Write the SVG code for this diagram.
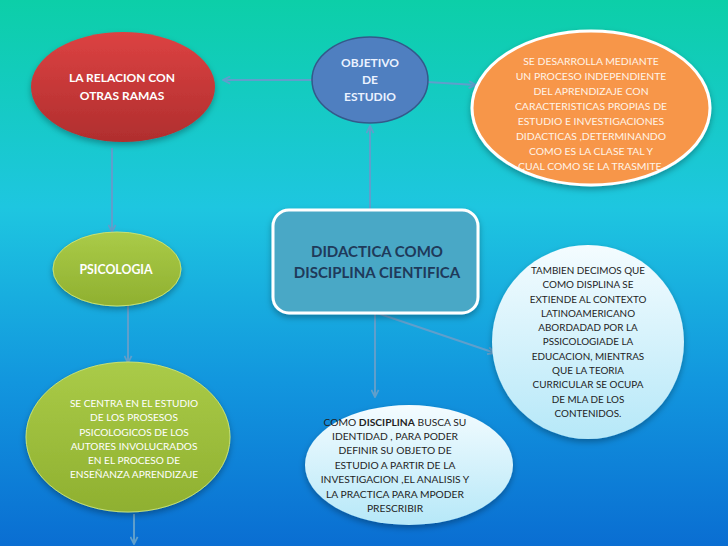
<svg xmlns="http://www.w3.org/2000/svg" width="728" height="546" viewBox="0 0 728 546">
<defs>
<linearGradient id="bg" x1="0" y1="0" x2="0" y2="1">
<stop offset="0" stop-color="#0ccfa8"/>
<stop offset="0.38" stop-color="#1ec6e0"/>
<stop offset="0.7" stop-color="#1296de"/>
<stop offset="1" stop-color="#0a6ed2"/>
</linearGradient>
<linearGradient id="gRed" x1="0" y1="0" x2="0" y2="1">
<stop offset="0" stop-color="#dc4242"/>
<stop offset="1" stop-color="#b02e2e"/>
</linearGradient>
<linearGradient id="gGreen" x1="0" y1="0" x2="0" y2="1">
<stop offset="0" stop-color="#aacb48"/>
<stop offset="1" stop-color="#8fb030"/>
</linearGradient>
<linearGradient id="gLight" x1="0" y1="0" x2="0" y2="1">
<stop offset="0" stop-color="#f4fcff"/>
<stop offset="1" stop-color="#b6e8f8"/>
</linearGradient>
<filter id="sh" x="-20%" y="-20%" width="140%" height="150%">
<feDropShadow dx="0" dy="3" stdDeviation="3" flood-color="#000" flood-opacity="0.3"/>
</filter>
<marker id="ah" viewBox="0 0 10 10" refX="9" refY="5" markerWidth="9" markerHeight="9" orient="auto" markerUnits="userSpaceOnUse">
<path d="M1,1 L9,5 L1,9" fill="none" stroke="#5f9fcc" stroke-width="2"/>
</marker>
<style>
.t{font-family:"Lato","Liberation Sans",sans-serif;text-anchor:middle}
.b{font-weight:bold}
.w{fill:#ffffff}
.c{stroke:#5f9fcc;stroke-width:2;fill:none;marker-end:url(#ah)}
</style>
</defs>
<rect width="728" height="546" fill="url(#bg)"/>
<g id="connectors">
<line class="c" x1="312" y1="80" x2="223" y2="80"/>
<line class="c" x1="427" y1="82" x2="476" y2="85"/>
<line class="c" x1="370" y1="209" x2="370" y2="126"/>
<line class="c" x1="112" y1="148" x2="112" y2="232"/>
<line class="c" x1="128" y1="306" x2="128" y2="363"/>
<line class="c" x1="134" y1="514" x2="134" y2="544"/>
<line class="c" x1="375" y1="313" x2="375" y2="397"/>
<line class="c" x1="377" y1="313" x2="495" y2="353"/>
</g>
<g id="relacion">
<ellipse cx="123" cy="87" rx="92" ry="55" fill="url(#gRed)" filter="url(#sh)"/>
<text class="t b w" font-size="12" x="122" y="82">LA RELACION CON</text>
<text class="t b w" font-size="12" x="122" y="100">OTRAS RAMAS</text>
</g>
<g id="objetivo">
<ellipse cx="370" cy="80" rx="58" ry="43" fill="#4f7fc0" stroke="#34598a" stroke-width="1.5"/>
<text class="t b" fill="#eaf2ff" font-size="12" x="370" y="67">OBJETIVO</text>
<text class="t b" fill="#eaf2ff" font-size="12" x="370" y="84">DE</text>
<text class="t b" fill="#eaf2ff" font-size="12" x="370" y="101">ESTUDIO</text>
</g>
<g id="desarrolla">
<ellipse cx="591" cy="108" rx="119" ry="77" fill="#f7964a" stroke="#ffffff" stroke-width="3" filter="url(#sh)"/>
<g class="t" font-size="10.4" fill="#fff4e8">
<text x="591" y="65">SE DESARROLLA MEDIANTE</text>
<text x="591" y="80">UN PROCESO INDEPENDIENTE</text>
<text x="591" y="95">DEL APRENDIZAJE CON</text>
<text x="591" y="110">CARACTERISTICAS PROPIAS DE</text>
<text x="591" y="125">ESTUDIO E INVESTIGACIONES</text>
<text x="591" y="140">DIDACTICAS ,DETERMINANDO</text>
<text x="591" y="155">COMO ES LA CLASE TAL Y</text>
<text x="591" y="170">CUAL COMO SE LA TRASMITE.</text>
</g>
</g>
<g id="psicologia">
<ellipse cx="117" cy="269" rx="64" ry="37" fill="url(#gGreen)" stroke="#c8e070" stroke-width="1" filter="url(#sh)"/>
<text class="t b w" font-size="12.3" x="116" y="274">PSICOLOGIA</text>
</g>
<g id="centra">
<ellipse cx="128" cy="437" rx="102" ry="75" fill="url(#gGreen)" stroke="#c8e070" stroke-width="1" filter="url(#sh)"/>
<g class="t w" font-size="10.1">
<text x="134" y="407">SE CENTRA EN EL ESTUDIO</text>
<text x="134" y="421">DE LOS PROSESOS</text>
<text x="134" y="436">PSICOLOGICOS DE LOS</text>
<text x="134" y="450">AUTORES INVOLUCRADOS</text>
<text x="134" y="464">EN EL PROCESO DE</text>
<text x="134" y="478">ENSEÑANZA APRENDIZAJE</text>
</g>
</g>
<g id="didactica">
<rect x="273" y="210" width="205" height="103" rx="16" fill="#4aa8c6" stroke="#ffffff" stroke-width="3" filter="url(#sh)"/>
<text class="t b" fill="#1f3a5a" font-size="15" x="377" y="257">DIDACTICA COMO</text>
<text class="t b" fill="#1f3a5a" font-size="15" x="377" y="278">DISCIPLINA CIENTIFICA</text>
</g>
<g id="tambien">
<ellipse cx="588" cy="342" rx="96" ry="97" fill="url(#gLight)" filter="url(#sh)"/>
<g class="t" font-size="9.9" fill="#1e1e1e">
<text x="588" y="274">TAMBIEN DECIMOS QUE</text>
<text x="588" y="288">COMO DISPLINA SE</text>
<text x="588" y="303">EXTIENDE AL CONTEXTO</text>
<text x="588" y="317">LATINOAMERICANO</text>
<text x="588" y="331">ABORDADAD POR LA</text>
<text x="588" y="345">PSSICOLOGIADE LA</text>
<text x="588" y="360">EDUCACION, MIENTRAS</text>
<text x="588" y="374">QUE LA TEORIA</text>
<text x="588" y="388">CURRICULAR SE OCUPA</text>
<text x="588" y="403">DE MLA DE LOS</text>
<text x="588" y="417">CONTENIDOS.</text>
</g>
</g>
<g id="disciplina">
<ellipse cx="409" cy="465" rx="104" ry="60" fill="url(#gLight)" filter="url(#sh)"/>
<g class="t" font-size="10.25" fill="#1e1e1e">
<text x="395" y="426">COMO <tspan font-weight="bold">DISCIPLINA</tspan> BUSCA SU</text>
<text x="395" y="440">IDENTIDAD , PARA PODER</text>
<text x="395" y="454">DEFINIR SU OBJETO DE</text>
<text x="395" y="469">ESTUDIO A PARTIR DE LA</text>
<text x="395" y="483">INVESTIGACION ,EL ANALISIS Y</text>
<text x="395" y="498">LA PRACTICA PARA MPODER</text>
<text x="395" y="512">PRESCRIBIR</text>
</g>
</g>
</svg>
